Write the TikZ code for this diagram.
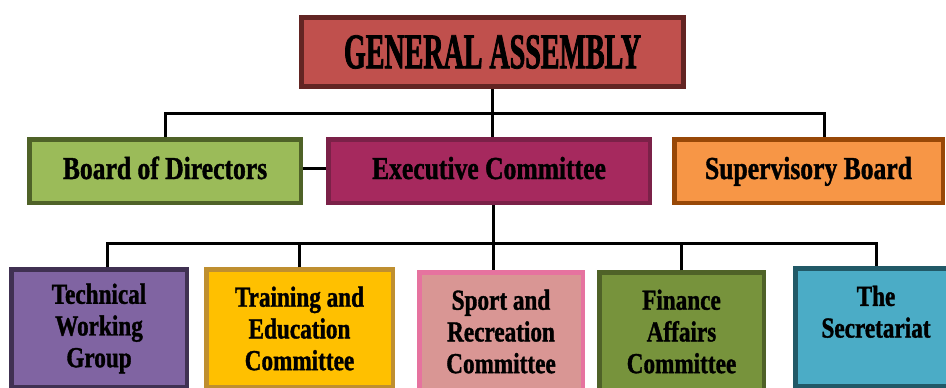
\documentclass[tikz,border=0pt]{standalone}
\usepackage{fontspec}
\newfontfamily\titlefont[FakeStretch=0.56, FakeBold=1.5]{Liberation Serif}
\newfontfamily\boxfont[FakeStretch=0.8, FakeBold=1.2]{Liberation Serif}
\usepackage{xcolor}
\definecolor{colorAssembly}{HTML}{C0504D}
\definecolor{colorAssemblyRim}{HTML}{632523}
\definecolor{colorBoard}{HTML}{9BBB59}
\definecolor{colorBoardRim}{HTML}{4F6228}
\definecolor{colorExec}{HTML}{A6295E}
\definecolor{colorExecRim}{HTML}{7B2148}
\definecolor{colorSuper}{HTML}{F79646}
\definecolor{colorSuperRim}{HTML}{984807}
\definecolor{colorTech}{HTML}{8064A2}
\definecolor{colorTechRim}{HTML}{403152}
\definecolor{colorTrain}{HTML}{FFC000}
\definecolor{colorTrainRim}{HTML}{BF8F30}
\definecolor{colorSport}{HTML}{D99694}
\definecolor{colorSportRim}{HTML}{E6739F}
\definecolor{colorFinance}{HTML}{77933C}
\definecolor{colorFinanceRim}{HTML}{4F6228}
\definecolor{colorSecr}{HTML}{4BACC6}
\definecolor{colorSecrRim}{HTML}{215967}
\tikzset{
  wire/.style={line width=3pt, black},
  midbox/.style 2 args={fill=#1, draw=#2, line width=4.5pt, minimum height=63.5pt,
    font=\boxfont\bfseries\fontsize{32}{34}\selectfont, text height=22pt, text depth=6pt},
  lowbox/.style 2 args={fill=#1, draw=#2, line width=4.5pt, anchor=north, minimum height=118pt,
    align=center, font=\boxfont\bfseries\fontsize{29}{31.7}\selectfont}
}

\begin{document}
\begin{tikzpicture}[x=1pt, y=-1pt]
\path[use as bounding box, clip] (0,0) rectangle (946,388);
\node[fill=colorAssembly, draw=colorAssemblyRim, line width=5pt, minimum width=382pt, minimum height=69pt, font=\titlefont\bfseries\fontsize{50}{55}\selectfont] (ga) at (492.5,52) {GENERAL ASSEMBLY};
\node[midbox={colorBoard}{colorBoardRim}, minimum width=271.5pt] (bod) at (165,171) {Board of Directors};
\node[midbox={colorExec}{colorExecRim}, minimum width=321.5pt] (exc) at (489,171) {Executive Committee};
\node[midbox={colorSuper}{colorSuperRim}, minimum width=268.5pt] (sb) at (808.5,171) {Supervisory Board};
\node[lowbox={colorTech}{colorTechRim}, minimum width=175.5pt] (tw) at (99,267.25) {Technical\\Working\\Group};
\node[lowbox={colorTrain}{colorTrainRim}, minimum width=186.5pt] (te) at (299.5,267.25) {Training and\\Education\\Committee};
\node[lowbox={colorSport}{colorSportRim}, minimum width=163.5pt] (sr) at (501,270.25) {Sport and\\Recreation\\Committee};
\node[lowbox={colorFinance}{colorFinanceRim}, minimum width=164.5pt] (fa) at (681.5,270.25) {Finance\\Affairs\\Committee};
\node[lowbox={colorSecr}{colorSecrRim}, minimum width=161.5pt] (sec) at (876,266.25) {The\\Secretariat\\\mbox{}};
\coordinate (topbus) at (493,113);
\coordinate (lowbus) at (493,243);
\draw[wire] (ga.south) -- (ga.south |- exc.north);
\draw[wire] (bod.north) |- (topbus) -| ([xshift=15.5pt]sb.north);
\draw[wire] ([yshift=3pt]bod.east) -- ([yshift=3pt]exc.west);
\draw[wire] (exc.south -| lowbus) -- (sr.north -| lowbus);
\draw[wire] ([xshift=8pt]tw.north) |- (lowbus) -| (sec.north);
\draw[wire] (te.north) -- (te.north |- lowbus);
\draw[wire] (fa.north) -- (fa.north |- lowbus);
\end{tikzpicture}
\end{document}
